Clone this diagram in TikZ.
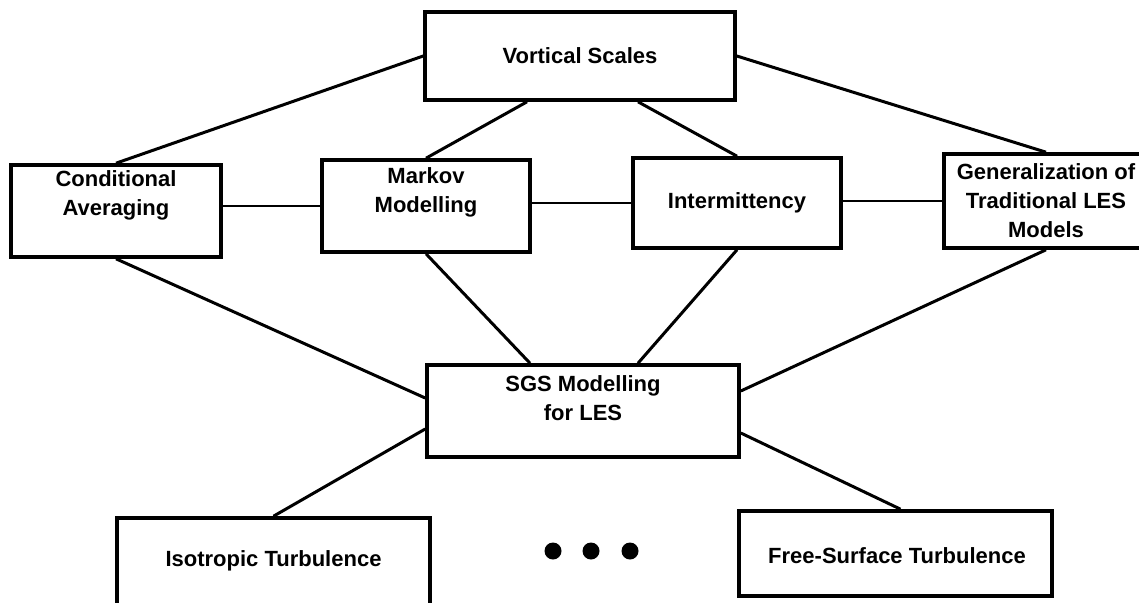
\documentclass[tikz,border=0pt]{standalone}
\usepackage{fontspec}
\setmainfont{Liberation Sans}
\usetikzlibrary{calc}
\begin{document}
\begin{tikzpicture}[x=1pt,y=-1pt,
  box/.style={draw=black, line width=3.6pt, rectangle, inner sep=0pt},
  lbl/.style={align=center, font=\fontsize{22}{29}\selectfont\bfseries, inner sep=0pt},
  conn/.style={draw=black, line width=3pt},
  hconn/.style={draw=black, line width=2.4pt},
  dot/.style={circle, fill=black, inner sep=0pt, minimum size=17pt}]
\useasboundingbox (0,0) rectangle (1139,602);
\clip (0,0) rectangle (1139,602);
% boxes
\node[box, minimum width=310pt, minimum height=88pt] (V) at (580,56) {};
\node[lbl] (Vt) at (V.center) {Vortical Scales};
\node[box, minimum width=210pt, minimum height=92pt] (C) at (116,211) {};
\node[lbl] (Ct) at (116,195) {Conditional\\Averaging};
\node[box, minimum width=208pt, minimum height=92pt] (M) at (426,206) {};
\node[lbl] (Mt) at (426,192) {Markov\\Modelling};
\node[box, minimum width=208pt, minimum height=90pt] (I) at (737,203) {};
\node[lbl] (It) at (I.center) {Intermittency};
\node[box, minimum width=204pt, minimum height=94pt] (G) at (1046,201) {};
\node[lbl] (Gt) at (1046,201) {Generalization of\\Traditional LES\\Models};
\node[box, minimum width=312pt, minimum height=92pt] (S) at (583,411) {};
\node[lbl] (St) at (583,398) {SGS Modelling\\for LES};
\node[box, minimum width=313pt, minimum height=87pt] (T) at (273.5,561.5) {};
\node[lbl] (Tt) at (273.5,561) {Isotropic Turbulence};
\node[box, minimum width=313pt, minimum height=85pt] (F) at (895.5,553.5) {};
\node[lbl] (Ft) at (897,556) {Free-Surface Turbulence};
% dots
\node[dot] (d1) at (553,551) {};
\node[dot] (d2) at (591,551) {};
\node[dot] (d3) at (630,551) {};
% connectors
\draw[conn] (V.west) -- (C.north);
\draw[conn] ([xshift=-53pt]V.south) -- (M.north);
\draw[conn] ([xshift=58pt]V.south) -- (I.north);
\draw[conn] (V.east) -- (G.north);
\draw[hconn] (M.west -| C.east) -- (M.west);
\draw[hconn] (M.east |- I.west) -- (I.west);
\draw[hconn] (I.east |- G.west) -- (G.west);
\draw[conn] (C.south) -- ([yshift=13pt]S.west);
\draw[conn] (M.south) -- ([xshift=-53pt]S.north);
\draw[conn] (I.south) -- ([xshift=55pt]S.north);
\draw[conn] (G.south) -- ([yshift=20pt]S.east);
\draw[conn] ([yshift=-18pt]S.west) -- (T.north);
\draw[conn] ([yshift=-22pt]S.east) -- ([xshift=5pt]F.north);
\end{tikzpicture}
\end{document}
